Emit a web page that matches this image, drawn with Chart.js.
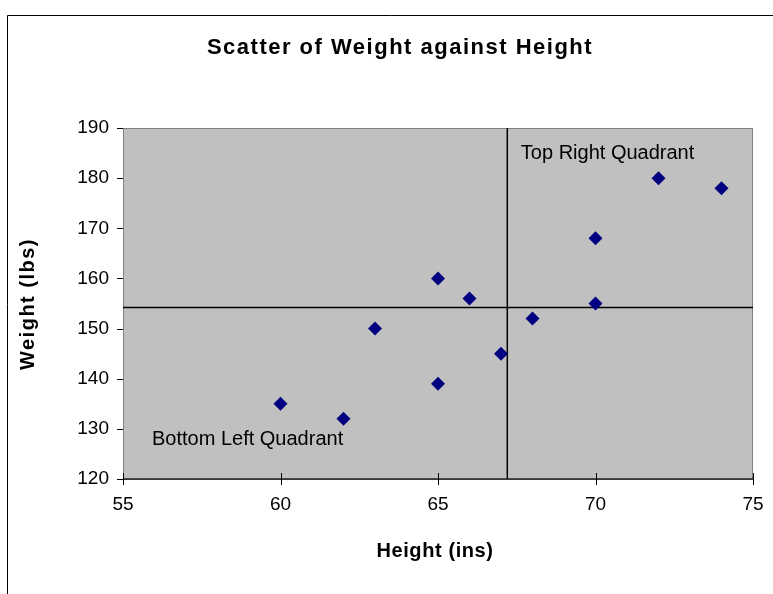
<!DOCTYPE html>
<html>
<head>
<meta charset="utf-8">
<script src="https://cdn.jsdelivr.net/npm/chart.js@4/dist/chart.umd.min.js"></script>
<style>
  html, body { margin: 0; padding: 0; background: #fff; }
  #grafica { display: block; }
</style>
</head>
<body>
<canvas id="grafica" width="773" height="594"></canvas>
<script>
// Datos
const alturas = [60, 62, 63, 65, 65, 66, 67, 68, 70, 70, 72, 74];
const pesos   = [135, 132, 150, 160, 139, 156, 145, 152, 168, 155, 180, 178];

const ticksX = [55, 60, 65, 70, 75];
const ticksY = [120, 130, 140, 150, 160, 170, 180, 190];

// líneas que separan los cuadrantes
const corteAltura = 67.2;
const cortePeso = 154.2;

const titulo = "Scatter of Weight against Height";
const tituloX = "Height (ins)";
const tituloY = "Weight (lbs)";

const etiquetas = [
  { texto: "Top Right Quadrant", x: 67.63, y: 185.0 },
  { texto: "Bottom Left Quadrant", x: 55.92, y: 127.8 }
];

const puntos = alturas.map((h, i) => ({ x: h, y: pesos[i] }));

// fondo gris, marco, cuadrantes, marcas de los ejes y textos
const pluginDibujo = {
  id: "dibujo",
  beforeDatasetsDraw(chart) {
    const { ctx, chartArea: a, scales } = chart;
    ctx.save();
    ctx.fillStyle = "#C0C0C0";
    ctx.fillRect(a.left, a.top, a.right - a.left, a.bottom - a.top);
    ctx.strokeStyle = "#808080";
    ctx.lineWidth = 1;
    ctx.strokeRect(a.left + 0.5, a.top + 0.5, a.right - a.left - 1, a.bottom - a.top);

    // cuadrantes
    ctx.strokeStyle = "#000";
    ctx.lineWidth = 1.5;
    const xc = scales.x.getPixelForValue(corteAltura);
    const yc = scales.y.getPixelForValue(cortePeso);
    ctx.beginPath();
    ctx.moveTo(xc, a.top);
    ctx.lineTo(xc, a.bottom);
    ctx.moveTo(a.left, yc);
    ctx.lineTo(a.right, yc);
    ctx.stroke();

    // eje x
    ctx.lineWidth = 1.5;
    ctx.strokeStyle = "#222";
    ctx.beginPath();
    ctx.moveTo(a.left, a.bottom);
    ctx.lineTo(a.right, a.bottom);
    ctx.stroke();

    ctx.lineWidth = 1;
    ctx.strokeStyle = "#000";
    ctx.beginPath();
    ticksX.forEach(v => {
      const px = Math.round(scales.x.getPixelForValue(v)) + 0.5;
      ctx.moveTo(px, a.bottom - 6);
      ctx.lineTo(px, a.bottom + 6);
    });
    ticksY.forEach(v => {
      const py = Math.round(scales.y.getPixelForValue(v)) + 0.5;
      ctx.moveTo(a.left - 6, py);
      ctx.lineTo(a.left, py);
    });
    ctx.stroke();

    // etiquetas de cuadrante
    ctx.fillStyle = "#000";
    ctx.font = "20px 'Liberation Sans', Arial, sans-serif";
    ctx.textAlign = "left";
    ctx.textBaseline = "middle";
    etiquetas.forEach(e => {
      ctx.fillText(e.texto, scales.x.getPixelForValue(e.x), scales.y.getPixelForValue(e.y));
    });
    ctx.restore();
  },
  afterDraw(chart) {
    const { ctx } = chart;
    ctx.save();
    // marco exterior
    ctx.strokeStyle = "#000";
    ctx.lineWidth = 1;
    ctx.beginPath();
    ctx.moveTo(7.5, chart.height);
    ctx.lineTo(7.5, 15.5);
    ctx.lineTo(chart.width, 15.5);
    ctx.stroke();

    ctx.fillStyle = "#000";
    ctx.textAlign = "center";
    ctx.textBaseline = "middle";
    ctx.font = "bold 22px 'Liberation Sans', Arial, sans-serif";
    ctx.letterSpacing = "1.5px";
    ctx.fillText(titulo, 400, 48);

    ctx.font = "bold 20px 'Liberation Sans', Arial, sans-serif";
    ctx.letterSpacing = "0.6px";
    ctx.fillText(tituloX, 435, 551);

    ctx.translate(28, 304);
    ctx.rotate(-Math.PI / 2);
    ctx.letterSpacing = "1.5px";
    ctx.fillText(tituloY, 0, 0);
    ctx.restore();
  }
};

const config = {
  type: "scatter",
  data: {
    datasets: [{
      label: "Weight",
      data: puntos,
      pointStyle: "rectRot",
      pointRadius: 7,
      pointHoverRadius: 7,
      backgroundColor: "#000080",
      borderColor: "#000080",
      borderWidth: 0
    }]
  },
  options: {
    responsive: false,
    animation: false,
    events: [],
    layout: { padding: { top: 128, right: 20, left: 0, bottom: 0 } },
    plugins: {
      legend: { display: false },
      title: { display: false },
      tooltip: { enabled: false }
    },
    scales: {
      x: {
        type: "linear",
        min: 55,
        max: 75,
        border: { display: false },
        grid: { display: false, drawTicks: true, tickLength: 6 },
        afterBuildTicks: s => { s.ticks = ticksX.map(v => ({ value: v })); },
        afterFit: s => { s.height = 115; },
        ticks: {
          padding: 8,
          color: "#000",
          maxRotation: 0,
          font: { family: "'Liberation Sans', Arial, sans-serif", size: 19 }
        }
      },
      y: {
        type: "linear",
        min: 120,
        max: 190,
        border: { display: false },
        grid: { display: false, drawTicks: true, tickLength: 6 },
        afterBuildTicks: s => { s.ticks = ticksY.map(v => ({ value: v })); },
        afterFit: s => { s.width = 123; },
        ticks: {
          padding: 8,
          color: "#000",
          font: { family: "'Liberation Sans', Arial, sans-serif", size: 19 }
        }
      }
    }
  },
  plugins: [pluginDibujo]
};

new Chart(document.getElementById("grafica"), config);
</script>
</body>
</html>
